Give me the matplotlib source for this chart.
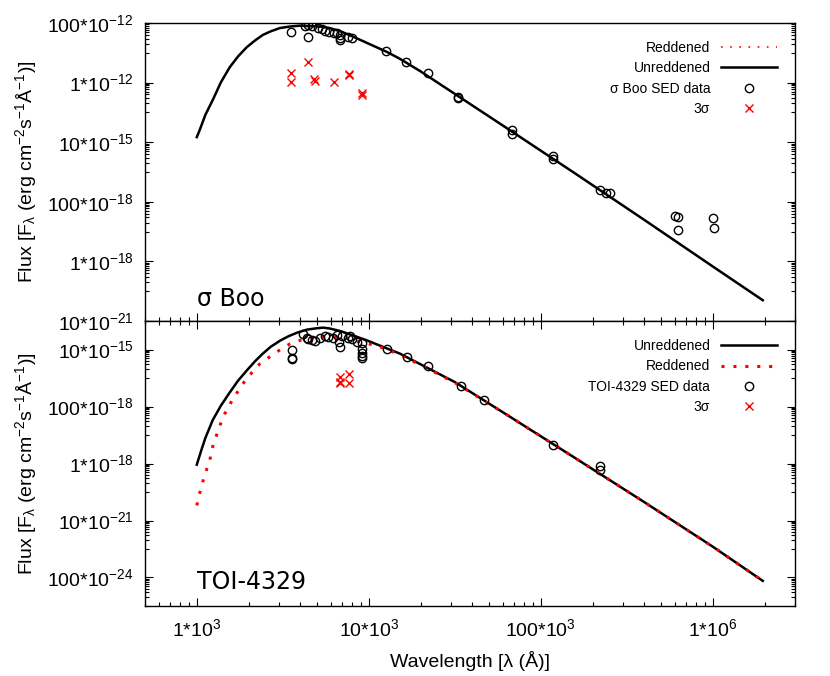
import numpy as np
import matplotlib.pyplot as plt
from matplotlib.ticker import FixedLocator, FuncFormatter, LogLocator, NullFormatter

plt.rcParams['font.family'] = ['Liberation Sans', 'DejaVu Sans']
plt.rcParams['mathtext.default'] = 'regular'

# ==========================
# sigma Boo (top panel)
# ==========================
boo_model_lam = [1000, 1040, 1122, 1239, 1380, 1556, 1738, 1954, 2188, 2421, 2692, 3041,
                 3467, 3972, 4786, 5248, 5929, 6918, 8110, 12735, 15136, 19953, 31623,
                 63096, 158489, 398107, 1.0e6, 1.95e6]
boo_model_flux = [1.48e-14, 2.57e-14, 8.32e-14, 2.63e-13, 1.02e-12, 3.31e-12, 7.59e-12,
                  1.55e-11, 2.63e-11, 3.98e-11, 5.25e-11, 6.76e-11, 7.59e-11, 8.13e-11,
                  7.76e-11, 7.59e-11, 6.76e-11, 5.13e-11, 3.47e-11, 1.07e-11, 6.31e-12,
                  2.40e-12, 4.17e-13, 3.02e-14, 8.91e-16, 2.51e-17, 6.76e-19, 5.01e-20]

boo_sed_lam = [3520, 4250, 4420, 4420, 4670, 5050, 5330, 5550, 5850, 6270, 6520, 6780,
               6780, 6780, 7550, 7960, 12560, 16400, 22030, 32890, 32890, 67760, 67760,
               117500, 117500, 220300, 238800, 251000, 601000, 626600, 626600, 1.0e6, 1.02e6]
boo_sed_flux = [5.0e-11, 7.9e-11, 8.5e-11, 3.4e-11, 7.9e-11, 6.8e-11, 6.3e-11, 5.4e-11,
                5.0e-11, 4.6e-11, 4.6e-11, 4.0e-11, 3.2e-11, 2.7e-11, 3.4e-11, 3.2e-11,
                1.15e-11, 4.9e-12, 2.1e-12, 3.3e-13, 3.0e-13, 2.6e-14, 1.9e-14, 3.5e-15,
                2.75e-15, 2.5e-16, 2.0e-16, 2.0e-16, 3.3e-17, 3.1e-17, 1.1e-17, 2.9e-17,
                1.3e-17]

boo_out_lam = [3520, 3520, 4420, 4790, 4850, 6270, 7660, 7660, 9100, 9100]
boo_out_flux = [2.1e-12, 1.05e-12, 4.9e-12, 1.3e-12, 1.1e-12, 1.05e-12, 1.9e-12,
                1.8e-12, 4.5e-13, 3.8e-13]

# ==========================
# TOI-4329 (bottom panel)
# ==========================
toi_model_lam = [1000, 1064, 1122, 1239, 1380, 1556, 1738, 1954, 2188, 2421, 2692, 3041,
                 3388, 3811, 4365, 4989, 5433, 5929, 6918, 8072, 9772, 11590, 15140,
                 31620, 63100, 158500, 398100, 1.0e6, 1.95e6]
toi_model_flux = [9.12e-19, 3.02e-18, 7.94e-18, 3.39e-17, 1.07e-16, 3.16e-16, 8.13e-16,
                  1.86e-15, 3.98e-15, 7.24e-15, 1.26e-14, 2.04e-14, 2.88e-14, 3.89e-14,
                  5.01e-14, 5.62e-14, 5.89e-14, 5.50e-14, 4.37e-14, 3.16e-14, 2.09e-14,
                  1.38e-14, 7.24e-15, 7.24e-16, 5.25e-17, 1.55e-18, 4.47e-20, 1.20e-21,
                  7.6e-23]

toi_red_lam = [1000, 1052, 1114, 1191, 1245, 1422, 1626, 1945, 2323, 2904, 3475, 3882,
               4467, 5188, 6310, 7762, 9120, 10840, 13180, 15140, 31620, 63100, 158500,
               398100, 1.0e6, 1.95e6]
toi_red_flux = [3.39e-20, 1.23e-19, 4.07e-19, 1.35e-18, 4.57e-18, 4.37e-17, 1.91e-16,
                9.55e-16, 3.16e-15, 8.13e-15, 1.58e-14, 2.04e-14, 2.45e-14, 2.75e-14,
                2.82e-14, 2.45e-14, 1.74e-14, 1.45e-14, 9.33e-15, 6.76e-15, 6.92e-16,
                5.25e-17, 1.55e-18, 4.47e-20, 1.20e-21, 7.6e-23]

toi_sed_lam = [4130, 4370, 4420, 4670, 4850, 5190, 5550, 5780, 6180, 6520, 6700, 6780,
               6970, 7550, 7760, 7960, 8510, 9100, 12740, 3565, 3565, 3565, 9100, 9100,
               9100, 9100, 16600, 22000, 34300, 46700, 117500, 220300, 220300]
toi_sed_flux = [3.6e-14, 2.6e-14, 2.4e-14, 2.2e-14, 2.0e-14, 2.6e-14, 3.1e-14, 2.8e-14,
                2.6e-14, 3.3e-14, 1.9e-14, 1.2e-14, 3.1e-14, 2.6e-14, 3.1e-14, 2.4e-14,
                1.9e-14, 1.7e-14, 1.07e-14, 1.0e-14, 5.2e-15, 4.5e-15, 1.07e-14, 7.9e-15,
                6.2e-15, 4.9e-15, 5.7e-15, 2.6e-15, 5.1e-16, 1.66e-16, 4.6e-18, 8.0e-19,
                6.0e-19]

toi_out_lam = [6780, 6780, 6780, 7660, 7660]
toi_out_flux = [1.05e-15, 7.1e-16, 6.6e-16, 1.35e-15, 6.6e-16]


def eng_label(v, pos):
    e = int(round(np.log10(v)))
    e3 = 3 * (e // 3)
    m = int(round(v / 10.0 ** e3))
    return f'{m}*10$^{{{e3}}}$'


fig = plt.figure(figsize=(8.3, 6.76), dpi=100)
ax1 = fig.add_axes([0.1747, 0.525, 0.7831, 0.441])
ax2 = fig.add_axes([0.1747, 0.1036, 0.7831, 0.4214], sharex=ax1)

red = '#ff0000'

# top panel
ax1.plot(boo_model_lam, boo_model_flux, color=red, lw=1.2, ls=(0, (1, 4.5)), label='Reddened')
ax1.plot(boo_model_lam, boo_model_flux, color='black', lw=1.8, label='Unreddened')
ax1.plot(boo_sed_lam, boo_sed_flux, 'o', mfc='none', mec='black', ms=6, mew=1.0,
         label='σ Boo SED data')
ax1.plot(boo_out_lam, boo_out_flux, 'x', color=red, ms=6, mew=1.0, label='3σ')

# bottom panel
ax2.plot(toi_model_lam, toi_model_flux, color='black', lw=1.8, label='Unreddened')
ax2.plot(toi_red_lam, toi_red_flux, color=red, lw=2.2, ls=(0, (1, 2.9)), label='Reddened')
ax2.plot(toi_sed_lam, toi_sed_flux, 'o', mfc='none', mec='black', ms=6, mew=1.0,
         label='TOI-4329 SED data')
ax2.plot(toi_out_lam, toi_out_flux, 'x', color=red, ms=6, mew=1.0, label='3σ')

for ax in (ax1, ax2):
    ax.set_xscale('log')
    ax.set_yscale('log')
    ax.set_xlim(500, 3e6)
    ax.xaxis.set_major_locator(LogLocator(base=10, numticks=20))
    ax.xaxis.set_minor_locator(LogLocator(base=10, subs=np.arange(2, 10), numticks=20))
    ax.xaxis.set_major_formatter(FuncFormatter(eng_label))
    ax.xaxis.set_minor_formatter(NullFormatter())
    ax.yaxis.set_major_formatter(FuncFormatter(eng_label))
    ax.yaxis.set_minor_formatter(NullFormatter())
    ax.tick_params(which='both', direction='in', right=True, labelsize=14)
    ax.tick_params(which='major', length=6, width=0.8)
    ax.tick_params(which='minor', length=3, width=0.8)
    ax.tick_params(axis='y', pad=8)
    ax.tick_params(axis='x', pad=9)
    ax.set_ylabel('Flux [F$_\\lambda$ (erg cm$^{-2}$s$^{-1}$Å$^{-1}$)]', fontsize=14,
                  labelpad=6)
    ax.legend(loc='upper right', frameon=False, markerfirst=False, fontsize=10,
              handlelength=4, handletextpad=0.8, labelspacing=0.45, borderaxespad=0.9)
    for sp in ax.spines.values():
        sp.set_linewidth(1.0)

minor_y = [m * 10.0 ** e for e in range(-25, -8, 2) for m in range(1, 10)]

ax1.set_ylim(1e-20, 1e-10)
ax1.yaxis.set_major_locator(FixedLocator([10.0 ** e for e in range(-20, -9, 2)]))
ax1.yaxis.set_minor_locator(FixedLocator(minor_y))
ax1.tick_params(axis='x', which='both', top=False, bottom=True, labelbottom=False)

ax2.set_ylim(1e-23, 1e-13)
ax2.yaxis.set_major_locator(FixedLocator([10.0 ** e for e in range(-22, -13, 2)]))
ax2.yaxis.set_minor_locator(FixedLocator(minor_y))
ax2.tick_params(axis='x', which='both', top=True, bottom=True)
ax2.set_xlabel('Wavelength [λ (Å)]', fontsize=14, labelpad=8)

ax1.text(0.08, 0.05, 'σ Boo', transform=ax1.transAxes, fontsize=17, family='DejaVu Sans')
ax2.text(0.08, 0.06, 'TOI-4329', transform=ax2.transAxes, fontsize=17, family='DejaVu Sans')

fig.savefig('out.png', dpi=100)
